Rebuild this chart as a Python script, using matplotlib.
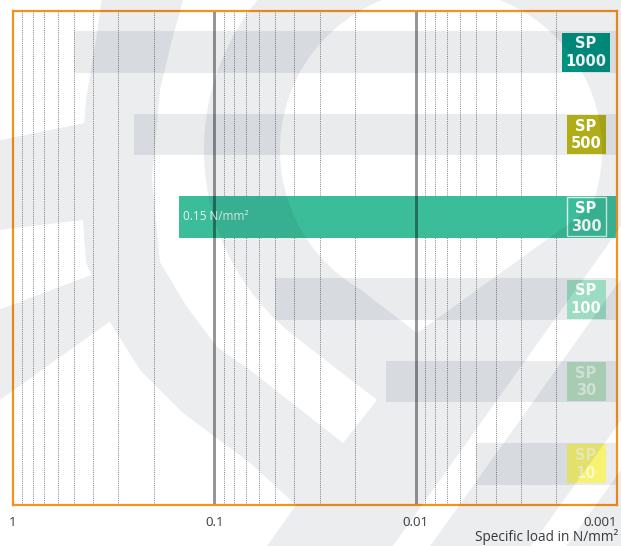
import numpy as np
import matplotlib
matplotlib.use("Agg")
import matplotlib.pyplot as plt
from matplotlib.figure import Figure
from matplotlib.backends.backend_agg import FigureCanvasAgg
from matplotlib.patches import Polygon, Rectangle
from matplotlib.ticker import LogLocator, NullFormatter
import matplotlib.transforms as mtransforms

plt.rcParams['font.family'] = ['Open Sans', 'DejaVu Sans']

# data
products = ['1000', '500', '300', '100', '30', '10']
min_load = [0.5, 0.25, 0.15, 0.05, 0.014, 0.005]   # N/mm2, bar starts here
max_load = 0.001
highlight = 2
highlight_label = '0.15 N/mm²'
tick_values = [1, 0.1, 0.01, 0.001]
tick_labels = ['1', '0.1', '0.01', '0.001']
box_colors = ['#00917f', '#b0ad16', 'none', '#9bdcc2', '#b6dcbe', '#f6f272']
text_alpha = [1.0, 1.0, 1.0, 0.95, 0.6, 0.55]

W, H = 621, 546


def watermark_mask():
    # draw the faint logo in pixel coords, black = grey area
    mfig = Figure(figsize=(W / 100, H / 100), dpi=100)
    canvas = FigureCanvasAgg(mfig)
    a = mfig.add_axes([0, 0, 1, 1])
    a.set_xlim(0, W)
    a.set_ylim(H, 0)
    a.axis('off')

    def arc(cx, cy, r, t1, t2, n=60):
        t = np.radians(np.linspace(t1, t2, n))
        return list(zip(cx + r * np.cos(t), cy + r * np.sin(t)))

    def poly(pts, c):
        a.add_patch(Polygon(pts, closed=True, facecolor=c, edgecolor='none'))

    big = [(103, -10), (640, -10), (640, 200), (386, 556), (260, 556), (296, 505),
           (250, 463), (183, 413), (140, 370), (110, 322), (86, 262), (80, 178),
           (86, 100), (96, 40)]
    poly(big, 'k')
    poly([(-10, 142), (100, 120), (100, 218), (-10, 231)], 'k')
    poly([(-10, 313), (110, 268), (112, 320), (-10, 407)], 'k')
    crescent = [(186, -10), (172, 40), (160, 90), (152, 178), (160, 262), (187, 307),
                (217, 347), (250, 370), (343, 443), (377, 400)] + arc(441, 150, 237, 129, 222)
    poly(crescent, 'w')
    poly(arc(441, 150, 161, 21, -240, 120) + [(417, 333)], 'w')
    poly([(386, 556), (640, 200), (640, 252), (423, 556)], 'w')
    poly([(423, 556), (640, 252), (640, 394), (524, 556)], 'k')
    poly([(559, 556), (640, 443), (640, 556)], 'k')
    poly([(524, 556), (640, 394), (640, 443), (559, 556)], 'w')
    canvas.draw()
    buf = np.asarray(canvas.buffer_rgba())[:, :, 0].astype(float) / 255.0
    return 1.0 - buf


fig = plt.figure(figsize=(W / 100, H / 100), dpi=100)
ax = fig.add_axes([13 / W, 1 - 505 / H, 604 / W, 494 / H])
ax.set_xscale('log')
ax.set_xlim(1, max_load)
ax.set_ylim(len(products), 0)

ypos = np.arange(len(products)) + 0.5
for i, (name, lo) in enumerate(zip(products, min_load)):
    if i == highlight:
        ax.barh(ypos[i], lo - max_load, left=max_load, height=0.51,
                color='#3bbd99', zorder=2)
        ax.text(lo * 0.955, ypos[i], highlight_label, ha='left', va='center',
                color='#eaf8f3', fontsize=8.5, zorder=4)
    else:
        ax.barh(ypos[i], lo - max_load, left=max_load, height=0.51,
                color='#0a1a30', alpha=0.085, zorder=2)

# label boxes on the right
trans = mtransforms.blended_transform_factory(ax.transAxes, ax.transData)
for i, name in enumerate(products):
    bw = 0.0795 if len(name) == 4 else 0.0646
    bh = 0.474
    if box_colors[i] == 'none':
        rect = Rectangle((0.9487 - bw / 2, ypos[i] - bh / 2), bw, bh, transform=trans,
                         facecolor='none', edgecolor='#d8f2ea', lw=1.0, zorder=4)
    else:
        rect = Rectangle((0.9487 - bw / 2, ypos[i] - bh / 2), bw, bh, transform=trans,
                         facecolor=box_colors[i], edgecolor='none', zorder=4)
    ax.add_patch(rect)
    ax.text(0.9487, ypos[i] - 0.1, 'SP', transform=trans, ha='center', va='center',
            color='white', alpha=text_alpha[i], fontsize=10.5, fontweight='bold',
            family='DejaVu Sans', zorder=5)
    ax.text(0.9487, ypos[i] + 0.115, name, transform=trans, ha='center', va='center',
            color='white', alpha=text_alpha[i], fontsize=10.5, fontweight='bold',
            family='DejaVu Sans', zorder=5)

# grid
ax.xaxis.set_minor_locator(LogLocator(base=10, subs=range(2, 10)))
ax.xaxis.set_minor_formatter(NullFormatter())
ax.grid(which='minor', axis='x', color='#707070', lw=0.6, ls=(0, (1.2, 1.4)), zorder=1)
for v in tick_values[1:-1]:
    ax.axvline(v, color='black', alpha=0.42, lw=2.1, zorder=3)

ax.set_xticks(tick_values)
ax.set_xticklabels(tick_labels)
ax.tick_params(axis='x', which='both', length=0, pad=8, labelsize=9.5, labelcolor='#3a3a3a')
ax.get_xticklabels()[-1].set_horizontalalignment('right')
ax.set_yticks([])
for s in ax.spines.values():
    s.set_color('#f5921e')
    s.set_linewidth(1.6)
    s.set_zorder(6)

fig.text(618 / W, 1 - 537 / H, 'Specific load in N/mm²', ha='right', va='center',
         fontsize=9.8, color='#3a3a3a')

# faint logo on top of everything, like the print
mask = watermark_mask()
overlay = np.zeros((H, W, 4))
overlay[..., 0] = 2 / 255
overlay[..., 1] = 15 / 255
overlay[..., 2] = 42 / 255
overlay[..., 3] = mask * 0.075
fig.figimage(overlay, xo=0, yo=0, origin='upper', zorder=10)

fig.savefig('out.png', dpi=100)
